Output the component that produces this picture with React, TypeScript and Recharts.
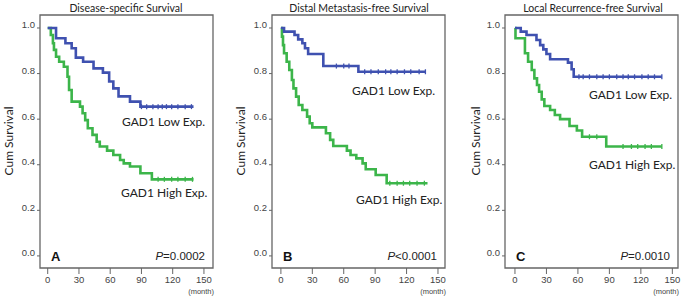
import React from "react"
import { ComposedChart, Line, Scatter, XAxis, YAxis, ReferenceArea } from "recharts"

const titles = ["Disease-specific Survival", "Distal Metastasis-free Survival", "Local Recurrence-free Survival"]
const letters = ["A", "B", "C"]
const pSigns = ["=0.0002", "<0.0001", "=0.0010"]
const lowLabel = "GAD1 Low Exp."
const highLabel = "GAD1 High Exp."
const xTicks = [0, 30, 60, 90, 120, 150]
const yTicks = [0, 0.2, 0.4, 0.6, 0.8, 1.0]

// panel A - disease-specific
const aLowMonths = [0, 8, 17, 23, 27, 34, 44, 53, 59, 63, 68, 79, 89, 140]
const aLowSurv = [1.0, 0.955, 0.933, 0.911, 0.87, 0.852, 0.823, 0.804, 0.765, 0.735, 0.7, 0.677, 0.655, 0.655]
const aLowCensor = [90, 95, 101, 106, 110, 114, 119, 125, 132, 138]
const aHighMonths = [0, 3, 5, 6, 8, 11, 15.5, 19, 20.5, 23, 31, 33.5, 36, 38.5, 43, 47, 50, 57, 63, 69.5, 73, 79, 89, 100, 140]
const aHighSurv = [1.0, 0.969, 0.933, 0.904, 0.874, 0.852, 0.83, 0.786, 0.728, 0.677, 0.655, 0.626, 0.596, 0.56, 0.531, 0.501, 0.48, 0.462, 0.443, 0.421, 0.406, 0.392, 0.363, 0.336, 0.336]
const aHighCensor = [106, 112, 119, 125, 132, 139]

// panel B - distal metastasis-free
const bLowMonths = [0, 3, 13, 16.5, 20.5, 23, 26, 40.5, 74, 138]
const bLowSurv = [1.0, 0.984, 0.969, 0.95, 0.933, 0.911, 0.886, 0.833, 0.808, 0.808]
const bLowCensor = [53, 60, 65, 80, 86, 93, 100, 105, 111, 118, 124, 132, 138]
const bHighMonths = [0, 1, 2, 3, 5.5, 8, 10.5, 12, 14.5, 17, 20.5, 25, 27.5, 30, 43, 47, 50, 63, 66.5, 72, 78, 81, 90.5, 101, 140]
const bHighSurv = [1.0, 0.962, 0.925, 0.889, 0.852, 0.816, 0.772, 0.735, 0.699, 0.662, 0.64, 0.611, 0.582, 0.564, 0.538, 0.509, 0.482, 0.462, 0.443, 0.428, 0.406, 0.38, 0.355, 0.319, 0.319]
const bHighCensor = [104, 111, 117, 123, 130, 137]

// panel C - local recurrence-free
const cLowMonths = [0, 5.5, 11, 20.5, 24, 27, 30, 33.5, 50.5, 54, 56, 140]
const cLowSurv = [1.0, 0.984, 0.969, 0.947, 0.925, 0.906, 0.886, 0.863, 0.848, 0.819, 0.786, 0.786]
const cLowCensor = [61, 65, 71, 78, 84, 90, 97, 103, 108, 114, 121, 127, 133, 140]
const cHighMonths = [0, 0.5, 9.5, 12.5, 16, 18.5, 21, 23, 25.5, 28, 33.5, 38, 43, 52, 59, 64, 87, 140]
const cHighSurv = [1.0, 0.955, 0.889, 0.852, 0.816, 0.779, 0.75, 0.72, 0.687, 0.658, 0.64, 0.618, 0.6, 0.57, 0.55, 0.523, 0.48, 0.48]
const cHighCensor = [71, 78, 103, 111, 117, 124, 130, 140]

const BLUE = "#3f51b0"
const GREEN = "#3cb54a"
const Y_DOMAIN: [number, number] = [-0.053, 1.057]

function toSteps(months: number[], surv: number[]) {
  return months.map((t, i) => ({ t, s: surv[i] }))
}

// value of the step curve at a censor time
function toCensor(months: number[], surv: number[], times: number[]) {
  return times.map((t) => {
    let s = surv[0]
    months.forEach((m, i) => {
      if (m <= t) s = surv[i]
    })
    return { t, s }
  })
}

const panels = [
  {
    left: 0, xDomain: [-7.4, 158.7],
    low: [aLowMonths, aLowSurv, aLowCensor], high: [aHighMonths, aHighSurv, aHighCensor],
    lowPos: [122, 122], highPos: [121, 193], lab: 9, title: 126,
  },
  {
    left: 232, xDomain: [-8.5, 156.7],
    low: [bLowMonths, bLowSurv, bLowCensor], high: [bHighMonths, bHighSurv, bHighCensor],
    lowPos: [352, 91], highPos: [356, 200], lab: 241, title: 359,
  },
  {
    left: 465, xDomain: [-9.5, 155.4],
    low: [cLowMonths, cLowSurv, cLowCensor], high: [cHighMonths, cHighSurv, cHighCensor],
    lowPos: [589, 95], highPos: [589, 165], lab: 476, title: 593,
  },
]

const Censor = (color: string) => (props: any) => {
  const { cx, cy } = props
  if (cx == null || cy == null) return <g />
  return <line x1={cx} x2={cx} y1={cy - 2.5} y2={cy + 2.5} stroke={color} strokeWidth={1.3} />
}

const calibri = "Lato, 'Open Sans', sans-serif"
const arial = "'Liberation Sans', Arial, sans-serif"

function Txt({ x, y, anchor = "left", style, children }: any) {
  const tx = anchor === "center" ? "-50%" : anchor === "right" ? "-100%" : "0"
  return (
    <div style={{ position: "absolute", left: x, top: y, transform: `translate(${tx}, -50%)`, whiteSpace: "nowrap", lineHeight: 1, ...style }}>
      {children}
    </div>
  )
}

function Panel({ p, i }: any) {
  const [lm, ls, lc] = p.low
  const [hm, hs, hc] = p.high
  const plotLeft = p.left + 40
  return (
    <>
      <div style={{ position: "absolute", left: p.left, top: 0 }}>
        <ComposedChart width={218} height={298} margin={{ top: 15, right: 5, bottom: 0, left: 0 }}>
          <XAxis
            type="number" dataKey="t" domain={p.xDomain} ticks={xTicks} allowDataOverflow
            height={30} axisLine={false} tickSize={6} tickLine={{ stroke: "#666" }}
            tick={{ fontSize: 9.5, fill: "#444", fontFamily: arial }}
          />
          <YAxis
            type="number" dataKey="s" domain={Y_DOMAIN} ticks={yTicks} allowDataOverflow
            width={40} axisLine={false} tickSize={3} tickLine={{ stroke: "#666" }}
            tickFormatter={(v: number) => v.toFixed(1)}
            tick={{ fontSize: 9.5, fill: "#444", fontFamily: arial, dy: -3 }}
          />
          <ReferenceArea
            x1={p.xDomain[0]} x2={p.xDomain[1]} y1={Y_DOMAIN[0]} y2={Y_DOMAIN[1]}
            fill="none" stroke="#666" strokeWidth={1.3} fillOpacity={0} strokeOpacity={1}
          />
          <Line data={toSteps(hm, hs)} dataKey="s" type="stepAfter" stroke={GREEN} strokeWidth={2.6} dot={false} isAnimationActive={false} />
          <Line data={toSteps(lm, ls)} dataKey="s" type="stepAfter" stroke={BLUE} strokeWidth={2.6} dot={false} isAnimationActive={false} />
          <Scatter data={toCensor(hm, hs, hc)} dataKey="s" shape={Censor(GREEN)} isAnimationActive={false} />
          <Scatter data={toCensor(lm, ls, lc)} dataKey="s" shape={Censor(BLUE)} isAnimationActive={false} />
        </ComposedChart>
      </div>
      <Txt x={p.title} y={8} anchor="center" style={{ fontFamily: calibri, fontSize: 10.5, color: "#222" }}>{titles[i]}</Txt>
      <div style={{ position: "absolute", left: p.lab, top: 141, transform: "translate(-50%, -50%) rotate(-90deg)", whiteSpace: "nowrap", fontFamily: calibri, fontSize: 12, color: "#222", lineHeight: 1 }}>
        Cum Survival
      </div>
      <Txt x={p.lowPos[0]} y={p.lowPos[1]} style={{ fontFamily: calibri, fontSize: 12, color: "#222" }}>{lowLabel}</Txt>
      <Txt x={p.highPos[0]} y={p.highPos[1]} style={{ fontFamily: calibri, fontSize: 12, color: "#222" }}>{highLabel}</Txt>
      <Txt x={plotLeft + 11} y={256} style={{ fontFamily: arial, fontSize: 13, fontWeight: "bold", color: "#111" }}>{letters[i]}</Txt>
      <Txt x={plotLeft + 165} y={257} anchor="right" style={{ fontFamily: arial, fontSize: 11.5, color: "#222" }}>
        <i>P</i>{pSigns[i]}
      </Txt>
      <Txt x={plotLeft + 174} y={292} anchor="right" style={{ fontFamily: arial, fontSize: 7.5, color: "#444" }}>(month)</Txt>
    </>
  )
}

export default function App() {
  return (
    <div style={{ position: "absolute", left: 0, top: 0, width: 683, height: 298, background: "#fff", overflow: "hidden" }}>
      {panels.map((p, i) => (
        <Panel key={i} p={p} i={i} />
      ))}
    </div>
  )
}
